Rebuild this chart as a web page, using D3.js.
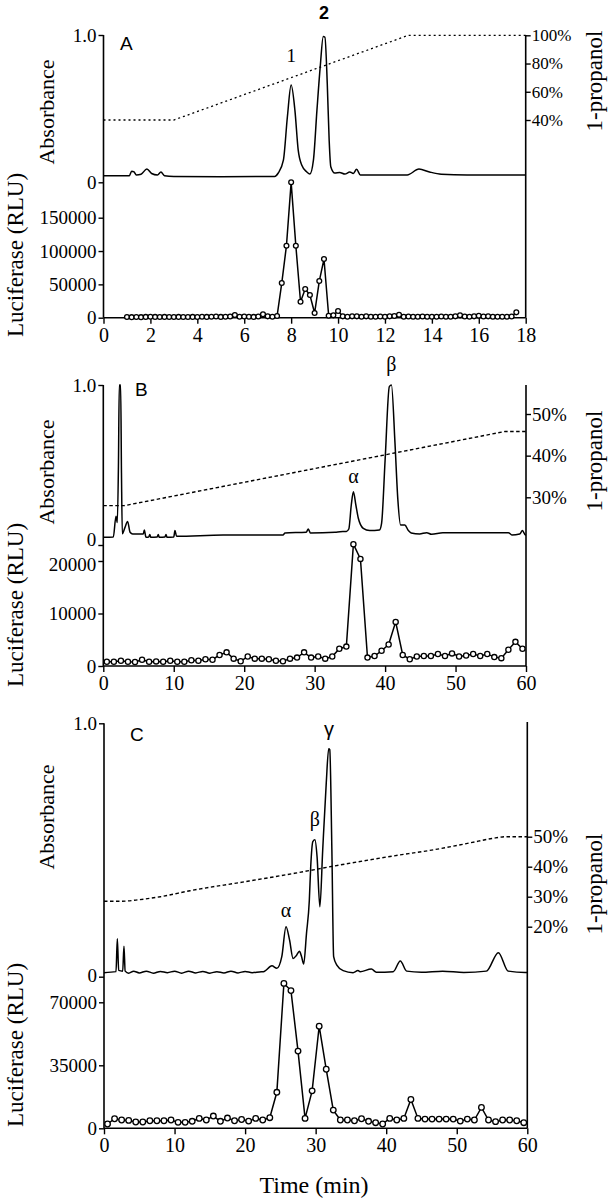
<!DOCTYPE html>
<html><head><meta charset="utf-8">
<script src="https://cdn.jsdelivr.net/npm/d3@7"></script>
<style>body{margin:0;background:#fff} svg{display:block}</style>
</head><body>
<svg id="c" width="612" height="1200"></svg>
<script>
// ---------------- DATA ----------------
// Panel A
const timeTicksA = [0,2,4,6,8,10,12,14,16,18];
const absTicksA = [0,1];
const lucTicksA = [0,50000,100000,150000];
const propTicksA = [40,60,80,100];
const gradientA = [[0,40],[3,40],[13,100],[18,100]];
const absA = [[0,0.045],[1.1,0.045],[1.2,0.075],[1.3,0.07],[1.4,0.05],[1.6,0.055],[1.85,0.09],[2.05,0.06],[2.3,0.05],[2.45,0.07],[2.6,0.045],[3.0,0.04],[5,0.038],[7.3,0.04],[7.45,0.063],[7.67,0.15],[7.84,0.445],[8.0,0.66],[8.16,0.49],[8.3,0.22],[8.45,0.117],[8.66,0.072],[8.8,0.056],[8.95,0.15],[9.1,0.49],[9.24,0.785],[9.37,0.99],[9.44,0.985],[9.54,0.67],[9.62,0.29],[9.69,0.106],[9.86,0.063],[10.07,0.067],[10.29,0.056],[10.5,0.07],[10.65,0.06],[10.79,0.088],[10.95,0.05],[12.0,0.05],[12.95,0.05],[13.45,0.09],[13.9,0.07],[14.4,0.055],[15.5,0.05],[18,0.05]];
const lucA = [[1.0,1000],[1.2,800],[1.4,1000],[1.6,800],[1.8,1200],[2.0,1500],[2.2,1200],[2.4,1000],[2.6,1200],[2.8,1000],[3.0,1000],[3.2,1200],[3.4,1000],[3.6,1000],[3.8,1200],[4.0,1000],[4.2,1500],[4.4,1200],[4.6,1500],[4.8,1800],[5.0,1200],[5.2,1500],[5.4,1800],[5.6,4000],[5.8,1500],[6.0,1800],[6.2,1500],[6.4,1200],[6.6,1800],[6.8,5000],[7.0,2000],[7.2,1500],[7.4,2500],[7.6,52000],[7.8,108000],[8.0,203000],[8.2,108000],[8.4,24000],[8.6,43000],[8.8,34000],[9.0,7000],[9.2,55000],[9.4,88000],[9.6,3000],[9.8,3500],[10.0,10000],[10.2,2000],[10.4,1500],[10.6,2000],[10.8,2000],[11.0,1500],[11.2,2000],[11.4,1500],[11.6,1500],[11.8,1800],[12.0,1500],[12.2,2000],[12.4,2500],[12.6,4500],[12.8,1500],[13.0,1800],[13.2,1500],[13.4,1500],[13.6,1800],[13.8,1500],[14.0,1500],[14.2,1500],[14.4,1800],[14.6,1500],[14.8,1500],[15.0,2000],[15.2,3500],[15.4,1800],[15.6,1500],[15.8,2000],[16.0,3000],[16.2,1800],[16.4,2000],[16.6,1500],[16.8,1500],[17.0,1500],[17.2,1500],[17.4,1800],[17.6,8000]];
const peakLabelsA = [{t:8.0,text:"1"},{t:9.4,text:"2"}];

// Panel B
const timeTicksB = [0,10,20,30,40,50,60];
const absTicksB = [0,1];
const lucTicksB = [0,10000,20000];
const propTicksB = [30,40,50];
const gradientB = [[0,28],[3,28],[57,45.8],[60,45.8]];
const absB = [[0,0.048],[1.42,0.05],[1.8,0.18],[1.99,0.14],[2.15,0.5],[2.27,1.0],[2.46,1.0],[2.58,0.45],[2.7,0.07],[3.08,0.11],[3.45,0.147],[3.8,0.08],[4.17,0.069],[5.68,0.069],[5.82,0.094],[6.06,0.048],[6.45,0.05],[6.6,0.065],[6.75,0.048],[7.65,0.05],[7.8,0.065],[7.95,0.048],[8.75,0.05],[8.9,0.065],[9.05,0.048],[10.0,0.05],[10.17,0.09],[10.4,0.055],[17.0,0.062],[25.5,0.062],[25.8,0.075],[28.8,0.08],[29.1,0.1],[29.4,0.075],[32.9,0.08],[33.6,0.083],[34.5,0.085],[34.85,0.1],[35.2,0.25],[35.5,0.333],[35.85,0.25],[36.2,0.167],[36.9,0.104],[37.8,0.09],[39.2,0.094],[39.5,0.135],[40.0,0.53],[40.6,0.99],[40.9,1.0],[41.4,0.64],[41.8,0.29],[42.2,0.125],[42.8,0.125],[43.3,0.09],[43.7,0.075],[44.9,0.069],[45.9,0.077],[46.6,0.067],[48.2,0.077],[57.5,0.077],[58.0,0.063],[59.1,0.069],[59.5,0.09],[59.9,0.063],[60,0.063]];
const lucB = [[0.5,820],[1.5,800],[2.5,1000],[3.5,800],[4.5,760],[5.5,1200],[6.5,820],[7.5,880],[8.5,820],[9.5,1000],[10.5,820],[11.5,800],[12.5,1100],[13.5,1000],[14.5,1300],[15.5,1200],[16.5,2100],[17.5,2600],[18.5,1400],[19.5,900],[20.5,1800],[21.5,1400],[22.5,1400],[23.5,1300],[24.5,1000],[25.5,900],[26.5,1400],[27.5,1600],[28.5,2600],[29.5,1600],[30.5,1800],[31.5,1400],[32.5,1800],[33.5,3300],[34.5,3700],[35.5,23200],[36.5,20400],[37.5,1600],[38.5,1900],[39.5,2900],[40.5,4100],[41.5,8400],[42.5,2100],[43.5,1300],[44.5,1800],[45.5,1900],[46.5,1900],[47.5,2300],[48.5,1900],[49.5,2400],[50.5,1800],[51.5,2000],[52.5,2300],[53.5,1900],[54.5,2300],[55.5,1700],[56.5,1500],[57.5,3100],[58.5,4600],[59.5,3300]];
const peakLabelsB = [{t:35.5,text:"α"},{t:40.9,text:"β"}];

// Panel C
const timeTicksC = [0,10,20,30,40,50,60];
const absTicksC = [0,1];
const lucTicksC = [0,35000,70000];
const propTicksC = [20,30,40,50];
const gradientC = [[0,28.5],[2.5,28.5],[5,29],[8,30],[12.2,32],[20,35],[27,37.8],[33.5,40.6],[40,43.2],[47.6,46],[52,48],[55,49.4],[57,50],[60,50]];
const absC = [[0,0.016],[1.7,0.02],[1.89,0.15],[2.08,0.025],[2.65,0.022],[2.83,0.12],[3.0,0.022],[3.5,0.014],[4.2,0.022],[5,0.015],[6,0.022],[7,0.014],[8,0.021],[9,0.016],[10,0.022],[11,0.014],[12,0.022],[13,0.015],[14,0.021],[15,0.014],[16,0.02],[17,0.015],[18,0.022],[19,0.015],[20,0.021],[21,0.016],[22.3,0.02],[22.6,0.02],[23.8,0.043],[24.5,0.033],[25.2,0.079],[25.8,0.197],[26.3,0.145],[26.8,0.072],[27.3,0.085],[27.7,0.1],[28.0,0.08],[28.3,0.05],[28.7,0.17],[29.1,0.3],[29.3,0.434],[29.6,0.533],[29.9,0.54],[30.2,0.474],[30.6,0.276],[31.0,0.5],[31.5,0.763],[31.85,0.9],[32.0,0.896],[32.3,0.5],[32.55,0.079],[33.0,0.046],[33.9,0.024],[35.3,0.016],[36.0,0.024],[36.3,0.02],[37.9,0.03],[38.6,0.018],[41.0,0.02],[42.0,0.062],[42.9,0.022],[45,0.018],[48,0.022],[51,0.017],[54.2,0.022],[55.9,0.095],[57.3,0.022],[59.7,0.017],[60,0.017]];
const lucC = [[0.5,2400],[1.5,5300],[2.5,4600],[3.5,4400],[4.5,3500],[5.5,3500],[6.5,4200],[7.5,4200],[8.5,4200],[9.5,4600],[10.5,3300],[11.5,3300],[12.5,3900],[13.5,5500],[14.5,4600],[15.5,6800],[16.5,3900],[17.5,5700],[18.5,4200],[19.5,4900],[20.5,4000],[21.5,5500],[22.5,4600],[23.5,5900],[24.5,20000],[25.5,80500],[26.5,76500],[27.5,42900],[28.5,5500],[29.5,20800],[30.5,56700],[31.5,32800],[32.5,10100],[33.5,4600],[34.5,4600],[35.5,4200],[36.5,5300],[37.5,3900],[38.5,3100],[39.5,2400],[40.5,5500],[41.5,4600],[42.5,5500],[43.5,16000],[44.5,5500],[45.5,5100],[46.5,5100],[47.5,5100],[48.5,5100],[49.5,5100],[50.5,4000],[51.5,5100],[52.5,4600],[53.5,11600],[54.5,4600],[55.5,3700],[56.5,4600],[57.5,4600],[58.5,4200],[59.5,3100]];
const peakLabelsC = [{t:25.8,text:"α"},{t:29.9,text:"β"},{t:31.9,text:"γ"}];

// ---------------- DRAW ----------------
const svg = d3.select("#c");
const serif = "'Liberation Serif','Times New Roman',serif";
const sans = "'Liberation Sans',Arial,sans-serif";

function panel(p) {
  const g = svg.append("g");
  const x = d3.scaleLinear().domain(p.xDomain).range([p.left, p.right]);
  const yA = d3.scaleLinear().domain([0, 1]).range([p.absZero, p.absTop]);
  const yL = d3.scaleLinear().domain([0, p.lucRef]).range([p.bottom, p.lucRefY]);
  const yP = d3.scaleLinear().domain(p.propDomain).range(p.propRange);

  // frame lines
  g.append("line").attr("x1", p.left).attr("x2", p.left).attr("y1", p.absTop).attr("y2", p.bottom)
    .attr("stroke", "#000").attr("stroke-width", 1.6);
  g.append("line").attr("x1", p.right).attr("x2", p.right).attr("y1", p.rightTop).attr("y2", p.bottom)
    .attr("stroke", "#000").attr("stroke-width", 1.6);
  g.append("line").attr("x1", p.left).attr("x2", p.right).attr("y1", p.bottom).attr("y2", p.bottom)
    .attr("stroke", "#000").attr("stroke-width", 1.6);

  function style(ax, size) {
    ax.attr("font-family", serif).attr("font-size", size);
    ax.select(".domain").remove();
    ax.selectAll(".tick line").attr("stroke", "#000").attr("stroke-width", 1.4);
    ax.selectAll(".tick text").attr("font-family", serif).attr("font-size", size).attr("fill", "#000");
  }
  const axA = g.append("g").attr("transform", `translate(${p.left},0)`)
    .call(d3.axisLeft(yA).tickValues(p.absTicks).tickFormat(d => d === 1 ? "1.0" : "0").tickSize(5).tickPadding(2));
  style(axA, p.leftFont);
  axA.selectAll(".tick text").filter(d => d === 0).attr("dy", p.absZeroDy);
  const axL = g.append("g").attr("transform", `translate(${p.left},0)`)
    .call(d3.axisLeft(yL).tickValues(p.lucTicks).tickFormat(d3.format("d")).tickSize(5).tickPadding(2));
  style(axL, p.leftFont);
  axL.selectAll(".tick text").filter(d => d === p.lucTicks[p.lucTicks.length - 1]).attr("dy", p.lucTopDy);
  const axP = g.append("g").attr("transform", `translate(${p.right},0)`)
    .call(d3.axisRight(yP).tickValues(p.propTicks).tickFormat(d => d + "%").tickSize(5).tickPadding(1));
  style(axP, p.rightFont);
  const axX = g.append("g").attr("transform", `translate(0,${p.bottom})`)
    .call(d3.axisBottom(x).tickValues(p.xTicks).tickSize(6).tickPadding(4).tickFormat(d3.format("d")));
  style(axX, p.bottomFont);

  // gradient
  g.append("path").datum(p.gradient)
    .attr("d", d3.line().x(d => x(d[0])).y(d => yP(d[1])).curve(p.gradCurve))
    .attr("fill", "none").attr("stroke", "#000").attr("stroke-width", p.gradWidth)
    .attr("stroke-dasharray", p.gradDash);

  // absorbance
  g.append("path").datum(p.abs)
    .attr("d", d3.line().x(d => x(d[0])).y(d => yA(d[1])).curve(d3.curveMonotoneX))
    .attr("fill", "none").attr("stroke", "#000").attr("stroke-width", 1.5).attr("stroke-linejoin", "round");

  // luciferase
  g.append("path").datum(p.luc)
    .attr("d", d3.line().x(d => x(d[0])).y(d => yL(d[1])))
    .attr("fill", "none").attr("stroke", "#000").attr("stroke-width", 1.5);
  g.selectAll("circle.l").data(p.luc).enter().append("circle")
    .attr("cx", d => x(d[0])).attr("cy", d => yL(d[1])).attr("r", p.r)
    .attr("fill", "#fff").attr("stroke", "#000").attr("stroke-width", 1.3);

  // panel letter
  g.append("text").attr("x", p.letterX).attr("y", p.letterY).text(p.letter)
    .attr("font-family", sans).attr("font-size", 19).attr("fill", "#000");

  // peak labels
  p.peaks.forEach((pk, i) => {
    g.append("text").attr("x", x(pk.t)).attr("y", p.peakY[i]).attr("text-anchor", "middle")
      .text(pk.text).attr("font-family", p.peakFont[i]).attr("font-size", p.peakSize[i])
      .attr("font-weight", p.peakWeight[i]).attr("fill", "#000");
  });

  // axis titles
  g.append("text").attr("transform", `translate(${p.absTitleX},${p.absTitleY}) rotate(-90)`)
    .attr("text-anchor", "middle").attr("dominant-baseline", "central").text("Absorbance")
    .attr("font-family", serif).attr("font-size", 22).attr("fill", "#000");
  g.append("text").attr("transform", `translate(${p.lucTitleX},${p.lucTitleY}) rotate(-90)`)
    .attr("text-anchor", "middle").attr("dominant-baseline", "central").text("Luciferase (RLU)")
    .attr("font-family", serif).attr("font-size", 23).attr("fill", "#000");
  g.append("text").attr("transform", `translate(${p.propTitleX},${p.propTitleY}) rotate(-90)`)
    .attr("text-anchor", "middle").attr("dominant-baseline", "central").text("1-propanol")
    .attr("font-family", serif).attr("font-size", 23).attr("fill", "#000");
}

panel({
  xDomain: [0, 18], left: 103.5, right: 525.7, absTop: 35, rightTop: 35, absZero: 182.3,
  bottom: 317.7, lucRef: 150000, lucRefY: 217.7, propDomain: [40, 100], propRange: [120, 35.3],
  xTicks: timeTicksA, absTicks: absTicksA, lucTicks: lucTicksA, propTicks: propTicksA,
  leftFont: 19, rightFont: 17, bottomFont: 20, absZeroDy: "0.32em", lucTopDy: "0.32em",
  gradient: gradientA, gradCurve: d3.curveLinear, gradDash: "2,3", gradWidth: 1.3,
  abs: absA, luc: lucA, r: 2.4,
  letter: "A", letterX: 120, letterY: 50,
  peaks: peakLabelsA, peakY: [62, 19], peakFont: [serif, sans], peakSize: [19, 18], peakWeight: ["normal", "bold"],
  absTitleX: 46, absTitleY: 112, lucTitleX: 15, lucTitleY: 255, propTitleX: 594, propTitleY: 81
});
panel({
  xDomain: [0, 60], left: 103.3, right: 526, absTop: 385, rightTop: 385, absZero: 545,
  bottom: 666, lucRef: 20000, lucRefY: 561, propDomain: [30, 50], propRange: [497.3, 414],
  xTicks: timeTicksB, absTicks: absTicksB, lucTicks: lucTicksB, propTicks: propTicksB,
  leftFont: 19, rightFont: 19, bottomFont: 20, absZeroDy: "0.05em", lucTopDy: "0.5em",
  gradient: gradientB, gradCurve: d3.curveLinear, gradDash: "3.5,2.5", gradWidth: 1.4,
  abs: absB, luc: lucB, r: 2.6,
  letter: "B", letterX: 135, letterY: 396,
  peaks: peakLabelsB, peakY: [483, 371], peakFont: [serif, serif], peakSize: [20, 20], peakWeight: ["normal", "normal"],
  absTitleX: 46, absTitleY: 472, lucTitleX: 15, lucTitleY: 605, propTitleX: 594, propTitleY: 461
});
panel({
  xDomain: [0, 60], left: 104, right: 527.3, absTop: 723.3, rightTop: 722, absZero: 976.7,
  bottom: 1128.3, lucRef: 70000, lucRefY: 1002.3, propDomain: [20, 50], propRange: [926.7, 836.7],
  xTicks: timeTicksC, absTicks: absTicksC, lucTicks: lucTicksC, propTicks: propTicksC,
  leftFont: 19, rightFont: 19, bottomFont: 20, absZeroDy: "0.25em", lucTopDy: "0.32em",
  gradient: gradientC, gradCurve: d3.curveMonotoneX, gradDash: "3.5,2.5", gradWidth: 1.4,
  abs: absC, luc: lucC, r: 2.8,
  letter: "C", letterX: 130, letterY: 741,
  peaks: peakLabelsC, peakY: [917, 826, 736], peakFont: [serif, serif, sans], peakSize: [20, 20, 20], peakWeight: ["normal", "normal", "normal"],
  absTitleX: 46, absTitleY: 817, lucTitleX: 15, lucTitleY: 1045, propTitleX: 594, propTitleY: 884
});

svg.append("text").attr("x", 314).attr("y", 1193).attr("text-anchor", "middle").text("Time (min)")
  .attr("font-family", serif).attr("font-size", 24).attr("fill", "#000");
</script>
</body></html>
